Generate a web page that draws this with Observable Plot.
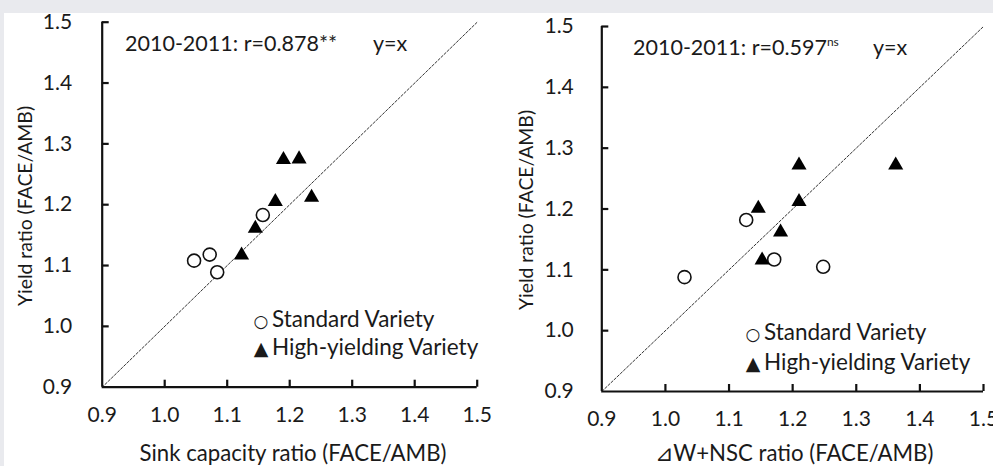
<!DOCTYPE html>
<html><head><meta charset="utf-8">
<script src="https://cdn.jsdelivr.net/npm/d3@7"></script>
<script src="https://cdn.jsdelivr.net/npm/@observablehq/plot@0.6"></script>
<style>
body{margin:0;background:#e9eaee;width:993px;height:466px;overflow:hidden;position:relative;font-family:Lato,"DejaVu Sans",sans-serif;}
#sheet{position:absolute;left:4px;top:13px;width:989px;height:453px;background:#fff;}
.panel{position:absolute;top:0;}
.note{position:absolute;font-size:21.5px;color:#1a1a1a;white-space:nowrap;line-height:22px;height:22px;}
.ctr{transform:translateX(-50%);font-size:22.2px;}
.rot{transform:translate(-50%,-50%) rotate(-90deg);font-size:19.4px;}
.leg{font-size:22.5px;}
.sym{display:inline-block;width:20px;text-align:center;font-family:"DejaVu Sans",sans-serif;margin-right:1px;}
.s0{font-size:17px;}
.s1{font-size:19px;}
sup{font-size:12px;vertical-align:9px;line-height:0;}
</style></head><body>
<div id="sheet"></div>
<div id="left" class="panel" style="left:0"></div>
<div id="right" class="panel" style="left:493px"></div>
<script>
// ---- data ----
const tickValues = [0.9, 1.0, 1.1, 1.2, 1.3, 1.4, 1.5];
const diagonal = [0.9, 1.5];

// Left panel: sink capacity ratio vs yield ratio
const sinkStandard = [1.047, 1.072, 1.084, 1.157];
const yieldStandardL = [1.108, 1.118, 1.089, 1.183];
const sinkHigh = [1.123, 1.145, 1.177, 1.190, 1.215, 1.235];
const yieldHighL = [1.117, 1.161, 1.205, 1.274, 1.275, 1.212];

// Right panel: ⊿W+NSC ratio vs yield ratio
const nscStandard = [1.030, 1.127, 1.171, 1.248];
const yieldStandardR = [1.088, 1.182, 1.117, 1.105];
const nscHigh = [1.210, 1.362, 1.146, 1.210, 1.181, 1.152];
const yieldHighR = [1.272, 1.272, 1.201, 1.212, 1.162, 1.116];

const labels = {
  left: {x: "Sink capacity ratio (FACE/AMB)", y: "Yield ratio (FACE/AMB)", r: "2010-2011: r=0.878**", sup: ""},
  right: {x: "⊿W+NSC ratio (FACE/AMB)", y: "Yield ratio (FACE/AMB)", r: "2010-2011: r=0.597", sup: "ns"}
};
const legendSymbols = ["○", "▲"];
const legendLabels = ["Standard Variety", "High-yielding Variety"];

function pairs(xs, ys) { return xs.map((x, i) => ({x, y: ys[i]})); }

function panel(o) {
  const std = pairs(o.sx, o.sy), high = pairs(o.hx, o.hy);
  const lo = tickValues[0], hi = tickValues[tickValues.length - 1];
  const inner = tickValues.slice(1);
  const H = 466, innerH = H - o.mt - o.mb, innerW = o.width - o.ml - o.mr, tl = 7;
  return Plot.plot({
    width: o.width, height: H,
    marginLeft: o.ml, marginRight: o.mr, marginTop: o.mt, marginBottom: o.mb,
    style: {background: "transparent", fontFamily: "Lato, sans-serif", fontSize: "21px", color: "#1a1a1a", overflow: "visible"},
    x: {domain: [lo, hi]},
    y: {domain: [lo, hi]},
    marks: [
      Plot.line(diagonal.map(v => [v, v]), {stroke: "#333", strokeWidth: 1, strokeDasharray: "2.5,1.8"}),
      Plot.axisX({ticks: tickValues, tickFormat: ".1f", tickSize: 0, tickPadding: 20, label: null}),
      Plot.axisY({ticks: tickValues, tickFormat: ".1f", tickSize: 0, tickPadding: o.ypad, label: null}),
      // inward tick marks (short ticks at the frame's bottom and left edges)
      Plot.tickX(inner, {x: d => d, insetTop: innerH - tl, stroke: "#111", strokeWidth: 2.2}),
      Plot.tickY(inner, {y: d => d, insetRight: innerW - tl, stroke: "#111", strokeWidth: 2.2}),
      Plot.ruleX([lo], {stroke: "#111", strokeWidth: 2.2}),
      Plot.ruleY([lo], {stroke: "#111", strokeWidth: 2.2}),
      Plot.dot(std, {x: "x", y: "y", r: 6.5, stroke: "#111", strokeWidth: 1.6, fill: "white"}),
      Plot.dot(high, {x: "x", y: "y", symbol: "triangle", r: 5.6, fill: "#000", stroke: "none"})
    ]
  });
}

document.getElementById("left").append(panel({
  width: 493, ml: 101.7, mr: 16.3, mt: 21.7, mb: 79.3, ypad: 30,
  sx: sinkStandard, sy: yieldStandardL, hx: sinkHigh, hy: yieldHighL
}));
document.getElementById("right").append(panel({
  width: 500, ml: 108.3, mr: 10, mt: 26, mb: 75, ypad: 28,
  sx: nscStandard, sy: yieldStandardR, hx: nscHigh, hy: yieldHighR
}));

function note(text, left, cy, cls, sup) {
  const d = document.createElement("div");
  d.className = "note " + (cls || "");
  d.textContent = text;
  if (sup) { const s = document.createElement("sup"); s.textContent = sup; d.append(s); }
  d.style.left = left + "px";
  d.style.top = (cls === "rot" ? cy : cy - 11) + "px";
  document.body.append(d);
  return d;
}
function legendItem(i, left, cy) {
  const d = note("", left, cy, "leg");
  const s = document.createElement("span");
  s.className = "sym s" + i;
  s.textContent = legendSymbols[i];
  d.append(s, document.createTextNode(legendLabels[i]));
}
// left panel texts
note(labels.left.r, 125, 43, "", labels.left.sup);
note("y=x", 373, 43);
legendItem(0, 251, 319);
legendItem(1, 251, 347);
note(labels.left.x, 293, 453, "ctr");
note(labels.left.y, 25, 206, "rot");
// right panel texts
note(labels.right.r, 633, 47, "", labels.right.sup);
note("y=x", 873, 47);
legendItem(0, 743, 332);
legendItem(1, 743, 362);
note(labels.right.x, 794, 453, "ctr");
note(labels.right.y, 526, 210, "rot");
</script>
</body></html>
